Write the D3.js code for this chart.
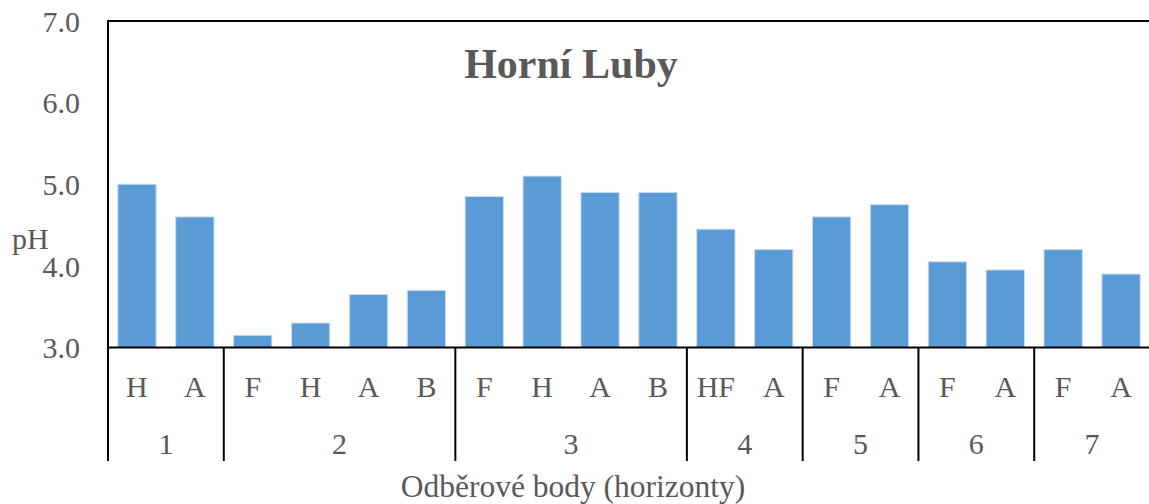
<!DOCTYPE html>
<html>
<head>
<meta charset="utf-8">
<script src="https://cdn.jsdelivr.net/npm/d3@7"></script>
<style>
  body { margin: 0; background: #fff; }
  text { font-family: "Liberation Serif", "Times New Roman", serif; fill: #595959; }
</style>
</head>
<body>
<svg id="chart" width="1149" height="504"></svg>
<script>
// sampling points and horizons
var points = ["1", "1", "2", "2", "2", "2", "3", "3", "3", "3", "4", "4", "5", "5", "6", "6", "7", "7"];
var horizons = ["H", "A", "F", "H", "A", "B", "F", "H", "A", "B", "HF", "A", "F", "A", "F", "A", "F", "A"];
var phValues = [5.0, 4.6, 3.15, 3.3, 3.65, 3.7, 4.85, 5.1, 4.9, 4.9, 4.45, 4.2, 4.6, 4.75, 4.05, 3.95, 4.2, 3.9];
var yTicks = [3, 4, 5, 6, 7];

var svg = d3.select("#chart");
// note: "top" is taken by window.top, so plot edges get their own names
var plotLeft = 108, plotRight = 1150, plotTop = 21, plotBottom = 347.5;

var x = d3.scaleBand()
  .domain(d3.range(phValues.length))
  .range([plotLeft, plotRight])
  .paddingInner(0.338)
  .paddingOuter(0.169);

var y = d3.scaleLinear().domain([3, 7]).range([plotBottom, plotTop]);

// bars
svg.selectAll("rect.bar")
  .data(phValues)
  .enter()
  .append("rect")
  .attr("class", "bar")
  .attr("x", (d, i) => x(i))
  .attr("width", x.bandwidth())
  .attr("y", (d) => y(d))
  .attr("height", (d) => y(3) - y(d))
  .attr("fill", "#5B9BD5")
  .attr("stroke", "#c9def2")
  .attr("stroke-width", 1);

// y axis labels
var yAxis = svg.append("g")
  .attr("transform", "translate(" + (plotLeft - 28) + ",0)")
  .call(d3.axisLeft(y).tickValues(yTicks).tickSize(0).tickFormat(d3.format(".1f")));
yAxis.select(".domain").remove();
yAxis.selectAll("text")
  .attr("x", 0)
  .attr("dy", "0.34em")
  .style("font-size", "30px")
  .style("font-family", "Liberation Serif")
  .attr("fill", "#595959");

// frame lines
var step = x.step();
svg.append("line")
  .attr("x1", plotLeft).attr("x2", plotRight).attr("y1", plotTop).attr("y2", plotTop)
  .attr("stroke", "#000").attr("stroke-width", 2);
svg.append("line")
  .attr("x1", plotLeft).attr("x2", plotRight).attr("y1", plotBottom).attr("y2", plotBottom)
  .attr("stroke", "#000").attr("stroke-width", 2);
svg.append("line")
  .attr("x1", plotLeft).attr("x2", plotLeft).attr("y1", plotTop - 1).attr("y2", 461)
  .attr("stroke", "#000").attr("stroke-width", 2);

// group boundaries
var groups = [];
points.forEach((p, i) => {
  if (groups.length === 0 || groups[groups.length - 1].name !== p) {
    groups.push({ name: p, start: i, end: i + 1 });
  } else {
    groups[groups.length - 1].end = i + 1;
  }
});

svg.selectAll("line.sep")
  .data(groups)
  .enter()
  .append("line")
  .attr("class", "sep")
  .attr("x1", (g) => plotLeft + g.end * step)
  .attr("x2", (g) => plotLeft + g.end * step)
  .attr("y1", plotBottom)
  .attr("y2", 461)
  .attr("stroke", "#000")
  .attr("stroke-width", 2);

// horizon labels
svg.selectAll("text.hor")
  .data(horizons)
  .enter()
  .append("text")
  .attr("class", "hor")
  .attr("x", (d, i) => x(i) + x.bandwidth() / 2)
  .attr("y", 397)
  .attr("text-anchor", "middle")
  .style("font-size", "30px")
  .text((d) => d);

// point labels
svg.selectAll("text.pt")
  .data(groups)
  .enter()
  .append("text")
  .attr("class", "pt")
  .attr("x", (g) => plotLeft + (g.start + g.end) / 2 * step)
  .attr("y", 454)
  .attr("text-anchor", "middle")
  .style("font-size", "30px")
  .text((g) => g.name);

// titles
svg.append("text")
  .attr("x", 571)
  .attr("y", 78)
  .attr("text-anchor", "middle")
  .style("font-size", "42px")
  .style("font-weight", "bold")
  .text("Horní Luby");

svg.append("text")
  .attr("x", 12)
  .attr("y", 249)
  .style("font-size", "30px")
  .text("pH");

svg.append("text")
  .attr("x", 573)
  .attr("y", 497)
  .attr("text-anchor", "middle")
  .style("font-size", "31.5px")
  .text("Odběrové body (horizonty)");
</script>
</body>
</html>
